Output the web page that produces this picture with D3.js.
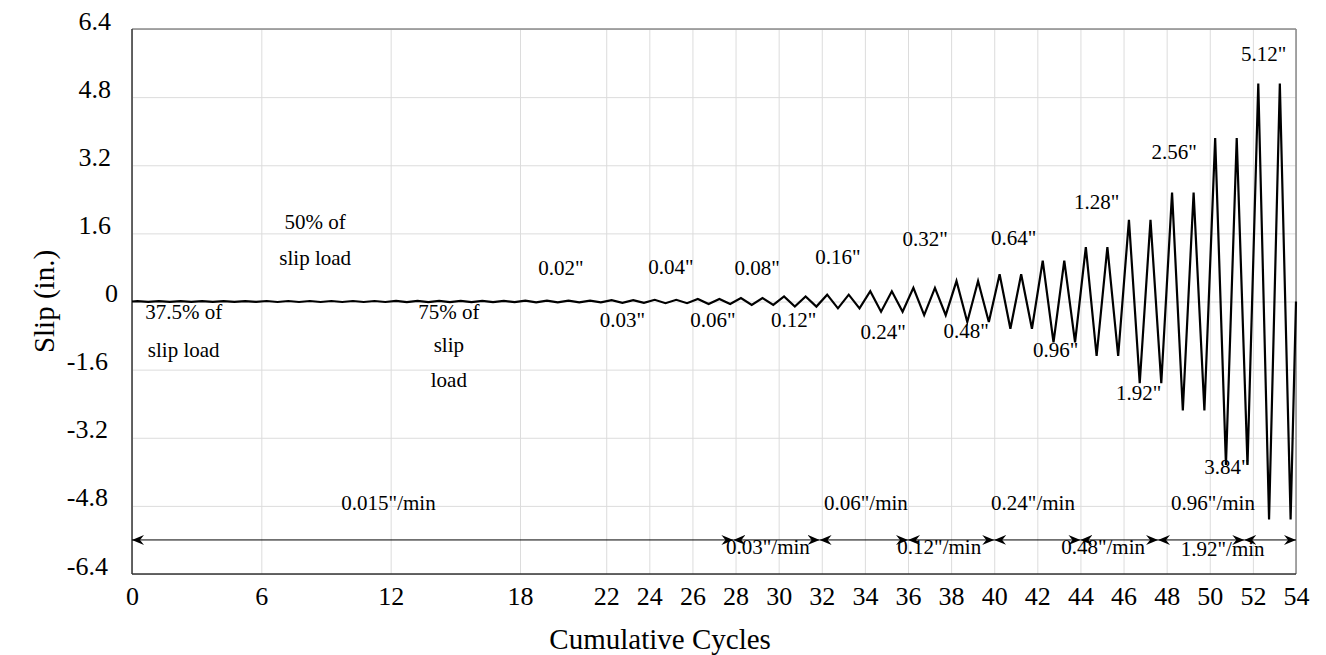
<!DOCTYPE html>
<html>
<head>
<meta charset="utf-8">
<script src="https://cdn.jsdelivr.net/npm/d3@7/dist/d3.min.js"></script>
<style>
  body { margin: 0; background: #fff; }
  text { font-family: "Liberation Serif", "Times New Roman", serif; fill: #000; }
</style>
</head>
<body>
<div id="chart"></div>
<script>
// slip amplitude of every cycle (in.), cycles 0..53
var cycleAmps = [
  0.008, 0.008, 0.008, 0.008, 0.008, 0.008,   // 37.5% of slip load
  0.012, 0.012, 0.012, 0.012, 0.012, 0.012,   // 50% of slip load
  0.016, 0.016, 0.016, 0.016, 0.016, 0.016,   // 75% of slip load
  0.02, 0.02, 0.02, 0.02,
  0.03, 0.03, 0.04, 0.04, 0.06, 0.06, 0.08, 0.08,
  0.12, 0.12, 0.16, 0.16, 0.24, 0.24, 0.32, 0.32,
  0.48, 0.48, 0.64, 0.64, 0.96, 0.96, 1.28, 1.28,
  1.92, 1.92, 2.56, 2.56, 3.84, 3.84, 5.12, 5.12
];

var xTickValues = [0, 6, 12, 18, 22, 24, 26, 28, 30, 32, 34, 36, 38, 40, 42, 44, 46, 48, 50, 52, 54];
var yTickValues = [-6.4, -4.8, -3.2, -1.6, 0, 1.6, 3.2, 4.8, 6.4];

// amplitude labels: text, cycle, slip
var ampText  = ['0.02"', '0.04"', '0.08"', '0.16"', '0.32"', '0.64"', '1.28"', '2.56"', '5.12"',
                '0.03"', '0.06"', '0.12"', '0.24"', '0.48"', '0.96"', '1.92"', '3.84"'];
var ampCycle = [19.9, 25.0, 29.0, 32.75, 36.8, 40.9, 44.75, 48.35, 52.5,
                22.75, 26.95, 30.7, 34.85, 38.7, 42.85, 46.7, 50.8];
var ampSlip  = [0.62, 0.65, 0.62, 0.88, 1.3, 1.32, 2.17, 3.35, 5.65,
                -0.6, -0.6, -0.6, -0.87, -0.86, -1.3, -2.31, -4.05];

// load level labels
var loadText  = ["37.5% of", "slip load", "50% of", "slip load", "75% of", "slip", "load"];
var loadCycle = [2.4, 2.4, 8.5, 8.5, 14.7, 14.7, 14.7];
var loadSlip  = [-0.41, -1.31, 1.7, 0.86, -0.4, -1.18, -2.0];

// loading rate labels and arrow spans
var rateText  = ['0.015"/min', '0.03"/min', '0.06"/min', '0.12"/min', '0.24"/min', '0.48"/min', '0.96"/min', '1.92"/min'];
var rateCycle = [11.9, 29.5, 34.05, 37.45, 41.8, 45.05, 50.15, 50.6];
var rateSlip  = [-4.9, -5.93, -4.9, -5.93, -4.9, -5.93, -4.9, -5.98];
var arrowFrom = [0, 27.9, 31.9, 36.0, 40.0, 44.0, 47.6, 51.6];
var arrowTo   = [27.9, 31.9, 36.0, 40.0, 44.0, 47.6, 51.6, 54];
var arrowSlip = -5.6;

var svgWidth = 1326;
var svgHeight = 655;
var margin = { top: 29, right: 30, bottom: 81, left: 132 };
var width = svgWidth - margin.left - margin.right;
var height = svgHeight - margin.top - margin.bottom;

var svg = d3.select("#chart")
  .append("svg")
  .attr("width", svgWidth)
  .attr("height", svgHeight);

var defs = svg.append("defs");
defs.append("marker")
  .attr("id", "arrow")
  .attr("viewBox", "0 -6 13 12")
  .attr("refX", 12)
  .attr("refY", 0)
  .attr("markerWidth", 13)
  .attr("markerHeight", 12)
  .attr("markerUnits", "userSpaceOnUse")
  .attr("orient", "auto-start-reverse")
  .append("path")
  .attr("d", "M0,-5L12,0L0,5L4,0Z")
  .attr("fill", "#000");

var chartGroup = svg.append("g")
  .attr("transform", `translate(${margin.left}, ${margin.top})`);

var xScale = d3.scaleLinear().domain([0, 54]).range([0, width]);
var yScale = d3.scaleLinear().domain([-6.4, 6.4]).range([height, 0]);

// grid
chartGroup.append("g")
  .attr("transform", `translate(0, ${height})`)
  .call(d3.axisBottom(xScale).tickValues(xTickValues).tickSize(-height).tickFormat(""))
  .call(g => g.select(".domain").remove())
  .call(g => g.selectAll("line").attr("stroke", "#dcdcdc").attr("stroke-width", 1));

chartGroup.append("g")
  .call(d3.axisLeft(yScale).tickValues(yTickValues).tickSize(-width).tickFormat(""))
  .call(g => g.select(".domain").remove())
  .call(g => g.selectAll("line").attr("stroke", "#dcdcdc").attr("stroke-width", 1));

// x tick labels
chartGroup.append("g")
  .attr("transform", `translate(0, ${height})`)
  .call(d3.axisBottom(xScale).tickValues(xTickValues).tickSize(0).tickPadding(0).tickFormat(d3.format("d")))
  .call(g => g.select(".domain").remove())
  .call(g => g.selectAll("text")
    .attr("y", 31)
    .attr("dy", 0)
    .style("font-size", "26px")
    .style("font-family", "Liberation Serif"));

// y tick labels
chartGroup.append("g")
  .call(d3.axisLeft(yScale).tickValues(yTickValues).tickSize(0)
    .tickFormat(d => d === 0 ? "0" : d.toFixed(1)))
  .call(g => g.select(".domain").remove())
  .call(g => g.selectAll("text")
    .attr("x", d => d === 0 ? -14 : (d > 0 ? -21 : -24))
    .attr("dy", 0)
    .style("font-size", "26px")
    .style("font-family", "Liberation Serif"));

// frame
chartGroup.append("line").attr("x1", 0).attr("x2", width).attr("y1", 0).attr("y2", 0)
  .attr("stroke", "#8a8a8a").attr("stroke-width", 1.5);
chartGroup.append("line").attr("x1", width).attr("x2", width).attr("y1", 0).attr("y2", height)
  .attr("stroke", "#8a8a8a").attr("stroke-width", 1.5);
chartGroup.append("line").attr("x1", 0).attr("x2", 0).attr("y1", 0).attr("y2", height)
  .attr("stroke", "#333").attr("stroke-width", 1.5);
chartGroup.append("line").attr("x1", 0).attr("x2", width).attr("y1", height).attr("y2", height)
  .attr("stroke", "#333").attr("stroke-width", 1.5);

// annotations
var annot = chartGroup.append("g")
  .attr("text-anchor", "middle")
  .style("font-size", "21px");

annot.selectAll(".amp")
  .data(ampText)
  .enter()
  .append("text")
  .attr("class", "amp")
  .attr("x", (d, i) => xScale(ampCycle[i]))
  .attr("y", (d, i) => yScale(ampSlip[i]))
  .text(d => d);

annot.selectAll(".load")
  .data(loadText)
  .enter()
  .append("text")
  .attr("class", "load")
  .attr("x", (d, i) => xScale(loadCycle[i]))
  .attr("y", (d, i) => yScale(loadSlip[i]))
  .text(d => d);

annot.selectAll(".rate")
  .data(rateText)
  .enter()
  .append("text")
  .attr("class", "rate")
  .attr("x", (d, i) => xScale(rateCycle[i]))
  .attr("y", (d, i) => yScale(rateSlip[i]))
  .text(d => d);

// rate arrows
chartGroup.selectAll(".rate-arrow")
  .data(arrowFrom)
  .enter()
  .append("line")
  .attr("class", "rate-arrow")
  .attr("x1", d => xScale(d))
  .attr("x2", (d, i) => xScale(arrowTo[i]))
  .attr("y1", yScale(arrowSlip))
  .attr("y2", yScale(arrowSlip))
  .attr("stroke", "#000")
  .attr("stroke-width", 1)
  .attr("marker-start", "url(#arrow)")
  .attr("marker-end", "url(#arrow)");

// slip history: peak at quarter cycle, trough at three quarters
var points = [[0, 0]];
cycleAmps.forEach(function(a, i) {
  points.push([i + 0.25, a]);
  points.push([i + 0.75, -a]);
});
points.push([cycleAmps.length, 0]);

var line = d3.line()
  .x(d => xScale(d[0]))
  .y(d => yScale(d[1]));

chartGroup.append("path")
  .datum(points)
  .attr("d", line)
  .attr("fill", "none")
  .attr("stroke", "#000")
  .attr("stroke-width", 2.2)
  .attr("stroke-linejoin", "miter");

// axis titles
svg.append("text")
  .attr("text-anchor", "middle")
  .attr("x", margin.left + xScale(24.5))
  .attr("y", 649)
  .style("font-size", "29px")
  .text("Cumulative Cycles");

svg.append("text")
  .attr("text-anchor", "middle")
  .attr("transform", `translate(54, ${margin.top + yScale(0)}) rotate(-90)`)
  .style("font-size", "29px")
  .text("Slip (in.)");
</script>
</body>
</html>
